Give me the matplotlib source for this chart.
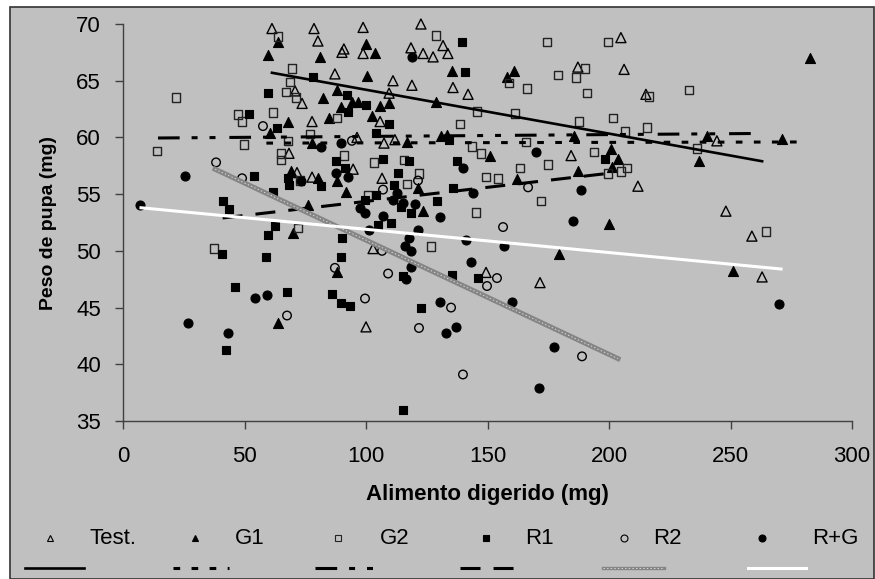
import matplotlib
matplotlib.use('Agg')
import matplotlib.pyplot as plt
from matplotlib.lines import Line2D
from matplotlib.patches import Rectangle

plt.rcParams['font.family'] = ['Liberation Sans', 'DejaVu Sans']
plt.rcParams['lines.scale_dashes'] = False

# Test.
test_x = [61.3, 78.6, 98.8, 122.6, 80.2, 90.9, 90.1, 98.8, 118.5, 118.9, 87.2, 111.1, 70.8, 73.7, 77.8,
          105.8, 109.5, 96.3, 107.4, 111.9, 68.3, 94.7, 77.8, 71.6, 106.6, 131.7, 123.5, 127.6, 133.7,
          135.8, 142.0, 204.9, 187.2, 206.2, 215.2, 244.4, 184.4, 211.9, 248.1, 258.8, 263.0, 149.4,
          171.6, 102.9, 100.0]
test_y = [69.6, 69.6, 69.7, 70.0, 68.5, 67.8, 67.5, 67.4, 67.9, 64.6, 65.6, 65.0, 64.1, 63.0, 61.4,
          61.4, 63.9, 60.0, 59.5, 59.8, 58.6, 57.2, 56.5, 56.9, 56.4, 68.1, 67.4, 67.1, 67.4,
          64.4, 63.8, 68.8, 66.2, 66.0, 63.8, 59.7, 58.4, 55.7, 53.5, 51.3, 47.7, 48.1,
          47.2, 50.2, 43.3]

# G1
g1_x = [63.8, 59.7, 81.1, 100.0, 103.7, 100.4, 82.3, 88.1, 89.7, 94.2, 96.7, 105.8, 109.5, 84.8,
        102.5, 67.9, 60.5, 77.8, 116.9, 69.1, 80.2, 91.8, 76.1, 88.1, 70.0, 88.1, 63.8, 135.4, 160.9,
        158.0, 128.8, 130.9, 133.3, 151.0, 121.4, 162.1, 123.5, 282.7, 185.6, 200.8, 203.7, 201.2,
        187.2, 240.3, 271.2, 237.0, 200.0, 179.4, 251.0]
g1_y = [68.4, 67.3, 67.1, 68.2, 67.4, 65.4, 63.5, 64.2, 62.7, 63.1, 63.1, 62.8, 63.0, 61.7,
        61.9, 61.4, 60.4, 59.5, 59.6, 57.0, 56.4, 55.2, 54.0, 56.2, 51.6, 48.1, 43.6, 65.9, 65.9,
        65.3, 63.1, 60.1, 60.2, 58.4, 55.5, 56.3, 53.5, 67.0, 60.1, 59.0, 58.1, 57.4,
        57.0, 60.1, 59.9, 57.9, 52.4, 49.7, 48.2]

# G2
g2_x = [21.8, 47.3, 49.0, 49.8, 14.0, 37.4, 63.8, 69.5, 68.7, 67.1, 71.2, 61.7, 88.1, 77.0, 67.9,
        65.0, 65.0, 90.9, 103.3, 115.6, 116.9, 72.8, 100.8, 72.0, 121.8, 126.7, 128.8, 174.5, 179.0,
        158.8, 166.3, 145.7, 161.3, 138.7, 165.8, 143.6, 147.3, 163.4, 174.9, 149.4, 154.3, 172.0,
        145.3, 199.6, 190.1, 186.4, 190.9, 216.5, 232.9, 187.7, 201.6, 215.6, 206.6, 193.8, 236.2,
        207.4, 204.9, 199.6, 264.6]
g2_y = [63.5, 62.0, 61.4, 59.4, 58.8, 50.2, 68.9, 66.1, 64.9, 64.0, 63.5, 62.2, 61.7, 60.3, 59.7,
        58.6, 58.0, 58.4, 57.8, 58.0, 55.9, 56.2, 54.9, 52.0, 56.8, 50.4, 69.0, 68.4, 65.5,
        64.8, 64.3, 62.3, 62.1, 61.2, 59.6, 59.2, 58.6, 57.3, 57.6, 56.5, 56.4, 54.4,
        53.4, 68.4, 66.1, 65.3, 63.9, 63.6, 64.2, 61.4, 61.7, 60.9, 60.5, 58.7, 59.0,
        57.3, 57.0, 56.8, 51.7]

# R1
r1_x = [51.9, 53.9, 41.2, 43.6, 59.7, 59.7, 40.7, 58.8, 46.1, 42.4, 78.2, 92.2, 100.0, 92.6, 63.4,
        109.5, 104.1, 87.7, 91.4, 107.0, 117.7, 113.2, 67.9, 68.3, 81.5, 111.5, 104.1, 99.6, 118.5,
        114.4, 61.7, 139.5, 140.7, 134.2, 137.4, 135.8, 129.2, 62.6, 90.1, 89.7, 67.5, 86.0, 89.7,
        93.4, 115.2, 104.9, 110.3, 115.2, 135.4, 146.1, 122.6, 198.4]
r1_y = [62.1, 56.6, 54.4, 53.7, 63.9, 51.4, 49.7, 49.5, 46.8, 41.3, 65.3, 63.7, 62.9, 62.2, 60.8,
        61.2, 60.4, 57.9, 57.3, 58.1, 57.9, 56.9, 56.4, 55.8, 55.7, 55.8, 54.9, 54.5, 53.3,
        53.9, 55.2, 68.4, 65.8, 59.8, 57.9, 55.5, 54.4, 52.2, 51.1, 49.5, 46.4, 46.2, 45.4,
        45.1, 36.0, 52.3, 52.5, 47.8, 47.9, 47.6, 45.0, 58.1]

# R2
r2_x = [57.6, 38.3, 49.0, 94.2, 107.0, 121.4, 166.7, 87.2, 106.6, 109.1, 99.6, 67.5, 156.4, 153.9,
        149.8, 135.0, 121.8, 139.9, 188.9]
r2_y = [61.0, 57.8, 56.4, 59.7, 55.4, 56.2, 55.6, 48.5, 50.0, 48.0, 45.8, 44.3, 52.1, 47.6,
        46.9, 45.0, 43.2, 39.1, 40.7]

# R+G
rg_x = [25.5, 7.0, 54.3, 59.3, 26.7, 43.2, 118.9, 81.5, 89.7, 87.7, 92.6, 73.3, 112.8, 97.5, 99.6,
        107.0, 111.1, 115.2, 120.2, 101.2, 117.7, 116.0, 118.5, 118.5, 116.5, 170.0, 139.9, 144.0,
        130.5, 121.4, 141.2, 156.8, 143.2, 130.5, 160.1, 137.0, 132.9, 177.4, 171.2, 188.5, 185.2,
        270.0]
rg_y = [56.6, 54.0, 45.8, 46.1, 43.6, 42.8, 67.1, 59.2, 59.5, 56.9, 56.5, 56.2, 55.1, 53.8, 53.3,
        53.1, 54.5, 54.2, 54.1, 51.8, 51.1, 50.4, 50.0, 48.6, 47.5, 58.7, 57.3, 55.1,
        53.0, 51.8, 51.0, 50.4, 49.0, 45.5, 45.5, 43.3, 42.8, 41.5, 37.9, 55.4, 52.6,
        45.3]

# trend line end points (x0, x1), (y0, y1)
trend_x = {'Test.': [61.3, 263.0], 'G1': [59.0, 281.0], 'G2': [14.4, 262.0],
           'R1': [41.0, 198.4], 'R2': [37.9, 203.7], 'R+G': [7.4, 270.8]}
trend_y = {'Test.': [65.7, 57.9], 'G1': [59.5, 59.6], 'G2': [59.95, 60.35],
           'R1': [52.9, 56.8], 'R2': [57.2, 40.5], 'R+G': [53.8, 48.4]}

labels = ['Test.', 'G1', 'G2', 'R1', 'R2', 'R+G']
xs = [test_x, g1_x, g2_x, r1_x, r2_x, rg_x]
ys = [test_y, g1_y, g2_y, r1_y, r2_y, rg_y]

bg = '#c0c0c0'
mk = {'Test.': dict(marker='^', s=52, facecolors='none', edgecolors='black', linewidths=1.0),
      'G1': dict(marker='^', s=52, facecolors='black', edgecolors='black', linewidths=0.8),
      'G2': dict(marker='s', s=38, facecolors='none', edgecolors='#222222', linewidths=1.0),
      'R1': dict(marker='s', s=38, facecolors='black', edgecolors='black', linewidths=0.8),
      'R2': dict(marker='o', s=38, facecolors='none', edgecolors='black', linewidths=1.0),
      'R+G': dict(marker='o', s=42, facecolors='black', edgecolors='black', linewidths=0.8)}
ls = {'Test.': dict(color='black', lw=1.9, ls='-'),
      'G1': dict(color='black', lw=2.2, ls=(0, (4.8, 8.2))),
      'G2': dict(color='black', lw=2.2, ls=(0, (15.6, 8.6, 4.3, 8.6, 4.3, 10.0))),
      'R1': dict(color='black', lw=2.2, ls=(0, (14.4, 9.4))),
      'R2': dict(color='#858585', lw=3.6, ls='-'),
      'R+G': dict(color='white', lw=2.2, ls='-')}
r2_texture = dict(color='#dadada', lw=0.7, ls=(0, (1.0, 1.6)))

W, H = 875, 579
fig = plt.figure(figsize=(W / 100, H / 100), dpi=100)
fig.patch.set_facecolor('white')
fig.add_artist(Rectangle((10 / W, 0), 1 - 11 / W, 1 - 7 / H, transform=fig.transFigure,
                         facecolor=bg, edgecolor='#333333', lw=1.2, zorder=0))

ax = fig.add_axes([123 / W, 1 - 421 / H, (852 - 123) / W, (421 - 24) / H])
ax.set_facecolor('none')

for lab, x, y in zip(labels, xs, ys):
    ax.scatter(x, y, zorder=3, clip_on=False, **mk[lab])
for lab in labels:
    ax.plot(trend_x[lab], trend_y[lab], zorder=4, **ls[lab])
# textured look of the R2 trend line
ax.plot(trend_x['R2'], trend_y['R2'], zorder=5, **r2_texture)

ax.set_xlim(0, 300)
ax.set_ylim(35, 70)
ax.set_xticks(range(0, 301, 50))
ax.set_yticks(range(35, 71, 5))
for s in ['top', 'right']:
    ax.spines[s].set_visible(False)
for s in ['left', 'bottom']:
    ax.spines[s].set_color('#404040')
    ax.spines[s].set_linewidth(1.0)
ax.tick_params(direction='out', length=6, width=1.0, color='#404040', labelsize=16)
ax.tick_params(axis='x', pad=12)
ax.tick_params(axis='y', pad=10)
ax.set_xlabel('Alimento digerido (mg)', fontsize=16, fontweight='bold', labelpad=12)
ax.set_ylabel('Peso de pupa (mg)', fontsize=14, fontweight='bold', labelpad=14)

# legend, row of markers and row of lines
leg_mx = [50, 195, 338, 486, 624, 762]
leg_tx = [89, 235, 380, 525, 653, 812]
leg_line = [(25, 84), (173, 229), (315, 373), (460, 516), (603, 664), (748, 806)]
row1, row2 = 538, 568
for i, lab in enumerate(labels):
    m = mk[lab]
    fig.add_artist(Line2D([leg_mx[i] / W], [1 - row1 / H], transform=fig.transFigure,
                          marker=m['marker'], markersize=5, ls='none',
                          markerfacecolor=m['facecolors'], markeredgecolor=m['edgecolors'],
                          markeredgewidth=0.8))
    fig.text(leg_tx[i] / W, 1 - row1 / H, lab, fontsize=16, va='center', ha='left')
    x0, x1 = leg_line[i]
    st = dict(ls[lab])
    if lab == 'R2':
        st['lw'] = 2.4
    fig.add_artist(Line2D([x0 / W, x1 / W], [1 - row2 / H] * 2, transform=fig.transFigure, **st))
    if lab == 'R2':
        fig.add_artist(Line2D([x0 / W, x1 / W], [1 - row2 / H] * 2, transform=fig.transFigure,
                              **r2_texture))

fig.savefig('out.png', dpi=100, facecolor='white')
